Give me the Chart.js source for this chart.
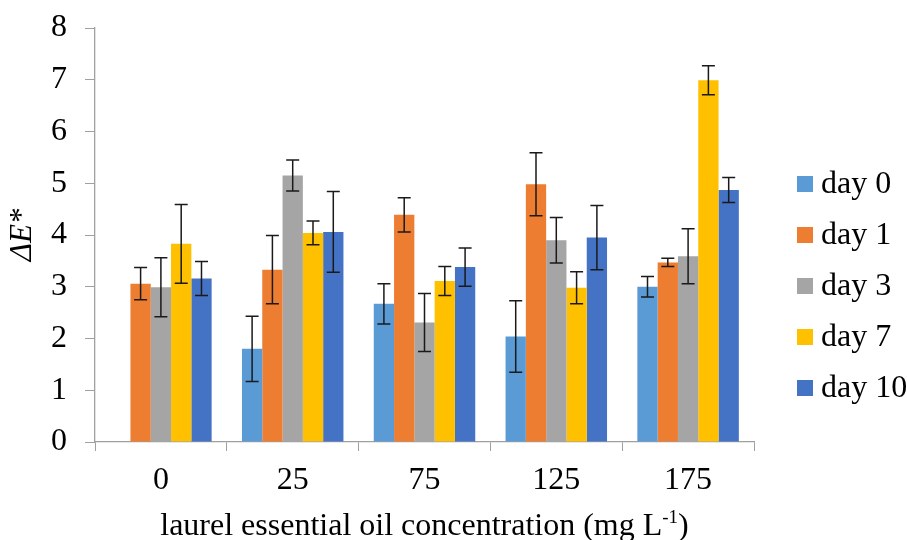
<!DOCTYPE html>
<html>
<head>
<meta charset="utf-8">
<script src="https://cdn.jsdelivr.net/npm/chart.js@4"></script>
<style>
  html, body { margin: 0; padding: 0; background: #fff; }
  #wrap { width: 907px; height: 540px; }
</style>
</head>
<body>
<div id="wrap"><canvas id="c" width="907" height="540"></canvas></div>
<script>
// concentrations (mg L-1)
const categories = ["0", "25", "75", "125", "175"];

// mean ΔE* per storage day
const day0  = [null, 1.80, 2.67, 2.04, 3.00];
const day1  = [3.06, 3.33, 4.39, 4.98, 3.47];
const day3  = [2.99, 5.15, 2.31, 3.90, 3.59];
const day7  = [3.83, 4.04, 3.11, 2.98, 6.99];
const day10 = [3.16, 4.06, 3.38, 3.95, 4.87];

// standard deviations
const err0  = [null, 0.63, 0.39, 0.69, 0.20];
const err1  = [0.31, 0.66, 0.33, 0.61, 0.08];
const err3  = [0.57, 0.30, 0.56, 0.44, 0.53];
const err7  = [0.76, 0.23, 0.28, 0.31, 0.28];
const err10 = [0.33, 0.78, 0.37, 0.62, 0.24];

const seriesLabels = ["day 0", "day 1", "day 3", "day 7", "day 10"];
const yTicks = [0, 1, 2, 3, 4, 5, 6, 7, 8];

const SERIF = "'Liberation Serif', 'Times New Roman', serif";
Chart.defaults.font.family = SERIF;
Chart.defaults.color = "#000";

const colors = ["#5B9BD5", "#ED7D31", "#A5A5A5", "#FFC000", "#4472C4"];
const values = [day0, day1, day3, day7, day10];
const errors = [err0, err1, err3, err7, err10];

const datasets = values.map((v, i) => ({
  label: seriesLabels[i],
  data: v,
  errors: errors[i],
  backgroundColor: colors[i],
  borderWidth: 0,
  categoryPercentage: 0.77,
  barPercentage: 1.0,
}));

// error bars: vertical whisker + caps, drawn over the bars
const errorBarPlugin = {
  id: "errorBars",
  afterDatasetsDraw(chart) {
    const { ctx, scales } = chart;
    ctx.save();
    ctx.strokeStyle = "#1a1a1a";
    ctx.lineWidth = 1.5;
    chart.data.datasets.forEach((ds, di) => {
      const meta = chart.getDatasetMeta(di);
      meta.data.forEach((bar, j) => {
        const v = ds.data[j], e = ds.errors[j];
        if (v == null || e == null) return;
        const x = bar.x;
        const yT = scales.y.getPixelForValue(v + e);
        const yB = scales.y.getPixelForValue(v - e);
        const cap = 6.5;
        ctx.beginPath();
        ctx.moveTo(x, yT); ctx.lineTo(x, yB);
        ctx.moveTo(x - cap, yT); ctx.lineTo(x + cap, yT);
        ctx.moveTo(x - cap, yB); ctx.lineTo(x + cap, yB);
        ctx.stroke();
      });
    });
    ctx.restore();
  },
};

// legend on the right + x axis title with superscript
const extrasPlugin = {
  id: "extras",
  afterDraw(chart) {
    const { ctx, chartArea } = chart;
    ctx.save();

    // legend
    ctx.font = "32px " + SERIF;
    ctx.textBaseline = "middle";
    ctx.textAlign = "left";
    chart.data.datasets.forEach((ds, i) => {
      const cy = 184 + i * 51;
      ctx.fillStyle = ds.backgroundColor;
      ctx.fillRect(797, cy - 8, 16, 16);
      ctx.fillStyle = "#000";
      ctx.fillText(ds.label, 821, cy + 1);
    });

    // x title: laurel essential oil concentration (mg L-1)
    const main = "laurel essential oil concentration (mg L";
    const sup = "-1";
    const tail = ")";
    const fMain = "32px " + SERIF, fSup = "19px " + SERIF;
    ctx.font = fMain;
    const wMain = ctx.measureText(main).width;
    const wTail = ctx.measureText(tail).width;
    ctx.font = fSup;
    const wSup = ctx.measureText(sup).width;
    const total = wMain + wSup + wTail;
    const cx = (chartArea.left + chartArea.right) / 2;
    let x = cx - total / 2;
    const base = 535;
    ctx.textBaseline = "alphabetic";
    ctx.fillStyle = "#000";
    ctx.font = fMain;
    ctx.fillText(main, x, base);
    x += wMain;
    ctx.font = fSup;
    ctx.fillText(sup, x, base - 12);
    x += wSup;
    ctx.font = fMain;
    ctx.fillText(tail, x, base);

    ctx.restore();
  },
};

new Chart(document.getElementById("c"), {
  type: "bar",
  data: { labels: categories, datasets },
  options: {
    responsive: false,
    animation: false,
    events: [],
    layout: { padding: { left: 0, right: 153, top: 0, bottom: 0 } },
    plugins: {
      legend: { display: false },
      tooltip: { enabled: false },
    },
    scales: {
      x: {
        grid: {
          display: true,
          offset: true,
          drawOnChartArea: false,
          tickLength: 9,
          color: "#a0a0a0",
        },
        border: { color: "#a0a0a0", width: 1.3 },
        ticks: { font: { size: 32 }, color: "#000", padding: 10 },
        afterFit(scale) { scale.height = 98; },
      },
      y: {
        min: 0,
        max: 8,
        afterBuildTicks(scale) { scale.ticks = yTicks.map(v => ({ value: v })); },
        grid: {
          display: true,
          drawOnChartArea: false,
          tickLength: 10,
          color: "#a0a0a0",
        },
        border: { color: "#a0a0a0", width: 1.3 },
        // small lineHeight keeps the top label from pushing the plot down
        ticks: { font: { size: 32, lineHeight: 0.625 }, color: "#000", padding: 18 },
        title: {
          display: true,
          text: "ΔE*",
          font: { size: 31, style: "italic" },
          color: "#000",
          padding: { top: 4, bottom: 0 },
        },
        afterFit(scale) { scale.width = 95; },
      },
    },
  },
  plugins: [errorBarPlugin, extrasPlugin],
});
</script>
</body>
</html>
